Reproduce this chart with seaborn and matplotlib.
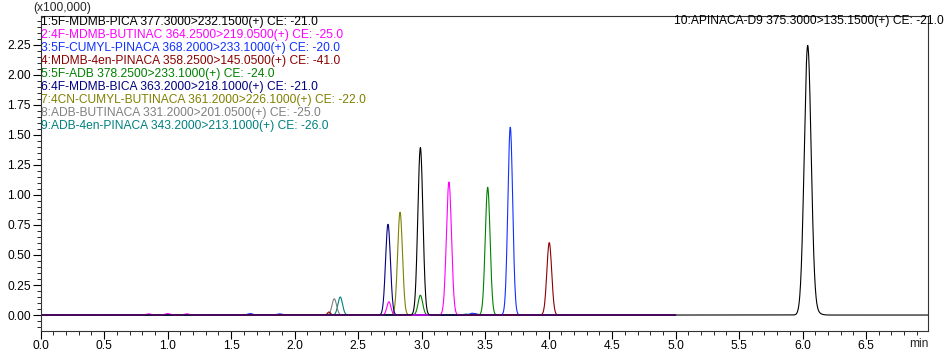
import numpy as np
import pandas as pd
import matplotlib
matplotlib.use("Agg")
import matplotlib.pyplot as plt
import seaborn as sns
from matplotlib.ticker import MultipleLocator, FormatStrFormatter

# ---- data ----
trace_labels = [
    "1:5F-MDMB-PICA 377.3000>232.1500(+) CE: -21.0",
    "2:4F-MDMB-BUTINAC 364.2500>219.0500(+) CE: -25.0",
    "3:5F-CUMYL-PINACA 368.2000>233.1000(+) CE: -20.0",
    "4:MDMB-4en-PINACA 358.2500>145.0500(+) CE: -41.0",
    "5:5F-ADB 378.2500>233.1000(+) CE: -24.0",
    "6:4F-MDMB-BICA 363.2000>218.1000(+) CE: -21.0",
    "7:4CN-CUMYL-BUTINACA 361.2000>226.1000(+) CE: -22.0",
    "8:ADB-BUTINACA 331.2000>201.0500(+) CE: -25.0",
    "9:ADB-4en-PINACA 343.2000>213.1000(+) CE: -26.0",
    "10:APINACA-D9 375.3000>135.1500(+) CE: -21.0",
]
trace_colors = ["#000000", "#ff00ff", "#1030ff", "#8b0000", "#008000",
                "#000080", "#808000", "#808080", "#008080", "#000000"]
# retention times (min), heights (x100,000) and widths (sigma, min) of peaks
peak_rt = [
    [2.99],
    [3.215, 2.742, 0.85, 1.00, 1.15],
    [3.698, 1.65, 1.88, 3.40],
    [4.005, 2.27],
    [3.52, 2.99],
    [2.735, 3.42],
    [2.83],
    [2.312],
    [2.359, 3.35],
    [6.04, 6.07],
]
peak_height = [
    [1.394],
    [1.108, 0.11, 0.010, 0.012, 0.010],
    [1.564, 0.012, 0.010, 0.015],
    [0.603, 0.025],
    [1.064, 0.165],
    [0.756, 0.010],
    [0.856],
    [0.135],
    [0.15, 0.008],
    [2.20, 0.06],
]
peak_sigma = [
    [0.02],
    [0.02, 0.016, 0.02, 0.02, 0.02],
    [0.019, 0.02, 0.02, 0.02],
    [0.019, 0.012],
    [0.019, 0.018],
    [0.019, 0.02],
    [0.019],
    [0.018],
    [0.018, 0.02],
    [0.027, 0.04],
]
trace_start = [0.0] * 9 + [5.0]
trace_end = [5.0] * 9 + [6.99]

# ---- build traces ----
frames = []
for i in range(len(trace_labels)):
    t = np.arange(trace_start[i], trace_end[i] + 1e-9, 0.002)
    y = np.zeros_like(t)
    for rt, h, s in zip(peak_rt[i], peak_height[i], peak_sigma[i]):
        y += h * np.exp(-0.5 * ((t - rt) / s) ** 2)
    frames.append(pd.DataFrame({"t": t, "y": y, "trace": trace_labels[i]}))
df = pd.concat(frames, ignore_index=True)

sns.set_style("ticks")
plt.rcParams['font.family'] = ['Liberation Sans', 'DejaVu Sans']

W, H = 952, 358
fig = plt.figure(figsize=(W / 100, H / 100), dpi=100)
ax = fig.add_axes([40.7 / W, 1 - 331 / H, (928.3 - 40.7) / W, 315 / H])

palette = dict(zip(trace_labels, trace_colors))
order = trace_labels[::-1]
for lab in order:
    sns.lineplot(data=df[df["trace"] == lab], x="t", y="y", color=palette[lab],
                 linewidth=0.8, estimator=None, sort=False, ax=ax, legend=False)

ax.set_xlim(0, 6.99)
ax.set_ylim(-0.133, 2.49)
ax.set_xlabel("")
ax.set_ylabel("")
ax.xaxis.set_major_locator(MultipleLocator(0.5))
ax.xaxis.set_minor_locator(MultipleLocator(0.1))
ax.xaxis.set_major_formatter(FormatStrFormatter("%.1f"))
ax.yaxis.set_major_locator(MultipleLocator(0.25))
ax.yaxis.set_minor_locator(MultipleLocator(0.05))
ax.yaxis.set_major_formatter(FormatStrFormatter("%.2f"))
fs = 8.65
ax.tick_params(which="major", direction="out", length=6, width=0.8, labelsize=fs, pad=1, colors="black")
ax.tick_params(axis="x", which="major", pad=0.5)
ax.tick_params(which="minor", direction="out", length=3, width=0.6, colors="black")
for sp in ax.spines.values():
    sp.set_visible(True)
    sp.set_linewidth(0.8)
    sp.set_color("#333333")

fig.text(33 / W, 1 - 7.5 / H, "(x100,000)", ha="left", va="center", fontsize=fs)
fig.text(919 / W, 1 - 344 / H, "min", ha="center", va="center", fontsize=fs)
for i in range(9):
    fig.text(41 / W, 1 - (22 + 13.05 * i) / H, trace_labels[i], ha="left", va="center",
             fontsize=fs, color=trace_colors[i])
fig.text(944 / W, 1 - 21 / H, trace_labels[9], ha="right", va="center", fontsize=fs,
         color=trace_colors[9])

fig.savefig("out.png", dpi=100)
